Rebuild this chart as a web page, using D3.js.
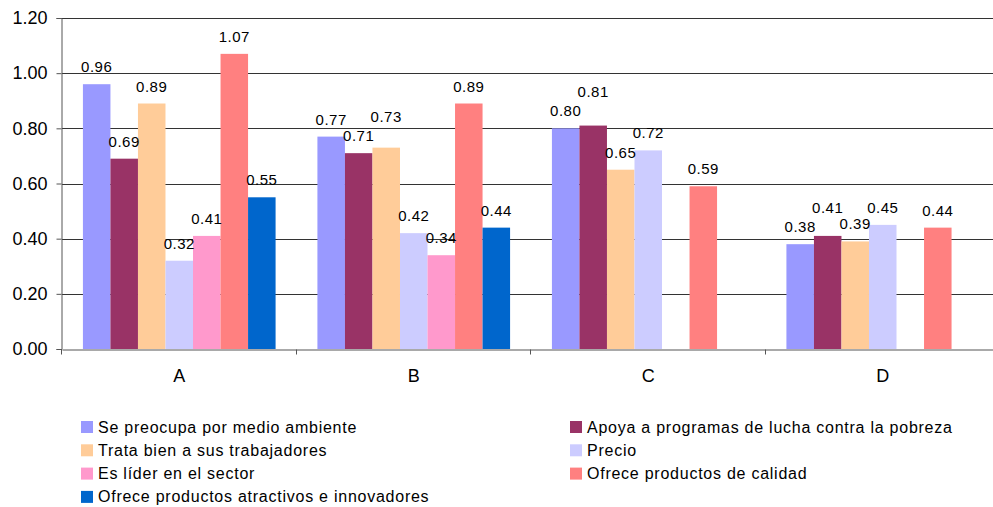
<!DOCTYPE html>
<html>
<head>
<meta charset="utf-8">
<script src="https://cdn.jsdelivr.net/npm/d3@7"></script>
<style>
  body { margin: 0; background: #fff; }
  text { font-family: Arial, "Liberation Sans", sans-serif; fill: #000; }
</style>
</head>
<body>
<svg width="993" height="507"></svg>
<script>
var categories = ["A", "B", "C", "D"];
var seriesNames = [
  "Se preocupa por medio ambiente",
  "Apoya a programas de lucha contra la pobreza",
  "Trata bien a sus trabajadores",
  "Precio",
  "Es líder en el sector",
  "Ofrece productos de calidad",
  "Ofrece productos atractivos e innovadores"
];
var seriesColors = ["#9999FF", "#993366", "#FFCC99", "#CCCCFF", "#FF99CC", "#FF8080", "#0066CC"];
// one row per category, one value per series (null = no bar)
var valuesA = [0.96, 0.69, 0.89, 0.32, 0.41, 1.07, 0.55];
var valuesB = [0.77, 0.71, 0.73, 0.42, 0.34, 0.89, 0.44];
var valuesC = [0.80, 0.81, 0.65, 0.72, null, 0.59, null];
var valuesD = [0.38, 0.41, 0.39, 0.45, null, 0.44, null];
var yTicks = [0, 0.2, 0.4, 0.6, 0.8, 1.0, 1.2];

var rows = [valuesA, valuesB, valuesC, valuesD];

var svg = d3.select("svg");
var mLeft = 62, mRight = 1000, mTop = 18, mBottom = 349;

var x0 = d3.scaleBand().domain(categories).range([mLeft, mRight]).paddingInner(0).paddingOuter(0);
var x1 = d3.scaleBand().domain(d3.range(seriesNames.length))
           .range([0, x0.bandwidth()]).paddingOuter(0.76).paddingInner(0);
var y = d3.scaleLinear().domain([0, 1.2]).range([mBottom, mTop]);

// gridlines
svg.append("g")
   .selectAll("line")
   .data(yTicks.slice(1))
   .enter()
   .append("line")
   .attr("x1", mLeft).attr("x2", mRight)
   .attr("y1", function(d){ return Math.round(y(d)) + 0.5; })
   .attr("y2", function(d){ return Math.round(y(d)) + 0.5; })
   .attr("stroke", "#333").attr("stroke-width", 1);

// bars
var groups = svg.append("g")
  .selectAll("g")
  .data(rows)
  .enter()
  .append("g")
  .attr("transform", function(d, i){ return "translate(" + x0(categories[i]) + ",0)"; });

// label baseline sits above the bar; bumped up if it would collide with the neighbour's label
var cells = function(row){
  var prev = null;
  return row.map(function(v, j){
    if (v === null) { prev = null; return null; }
    var ly = y(v) - 12;
    if (prev !== null && Math.abs(ly - prev) < 13) ly = prev - 19;
    prev = ly;
    return {v: v, j: j, ly: ly};
  }).filter(function(c){ return c !== null; });
};

groups.selectAll("rect")
  .data(cells)
  .enter()
  .append("rect")
  .attr("x", function(d){ return x1(d.j); })
  .attr("width", x1.bandwidth())
  .attr("y", function(d){ return y(d.v); })
  .attr("height", function(d){ return y(0) - y(d.v); })
  .attr("fill", function(d){ return seriesColors[d.j]; });

groups.selectAll("text")
  .data(cells)
  .enter()
  .append("text")
  .attr("x", function(d){ return x1(d.j) + x1.bandwidth() / 2; })
  .attr("y", function(d){ return d.ly; })
  .attr("text-anchor", "middle")
  .style("font-size", "15px")
  .style("letter-spacing", "0.5px")
  .text(function(d){ return d.v.toFixed(2); });

// y axis
var yAxis = d3.axisLeft(y).tickValues(yTicks).tickSize(5).tickPadding(9)
              .tickFormat(d3.format(".2f"));
var yg = svg.append("g").attr("transform", "translate(" + (mLeft - 0.5) + ",0)").call(yAxis);
yg.select(".domain").attr("stroke", "#555");
yg.selectAll(".tick line").attr("stroke", "#555");
yg.selectAll(".tick text").style("font-size", "18px").attr("fill", "#000");

// x axis
var xAxis = d3.axisBottom(x0).tickSize(0).tickPadding(20);
var xg = svg.append("g").attr("transform", "translate(0," + (mBottom + 0.5) + ")").call(xAxis);
xg.select(".domain").attr("stroke", "#555");
xg.selectAll(".tick text").style("font-size", "18px").attr("fill", "#000");
xg.selectAll(".boundary")
  .data(categories.concat(["end"]))
  .enter()
  .append("line")
  .attr("x1", function(d, i){ return Math.round(mLeft + i * x0.bandwidth()) - 0.5; })
  .attr("x2", function(d, i){ return Math.round(mLeft + i * x0.bandwidth()) - 0.5; })
  .attr("y1", 0).attr("y2", 5)
  .attr("stroke", "#555");

// legend
var legend = svg.append("g");
var items = legend.selectAll("g")
  .data(seriesNames)
  .enter()
  .append("g")
  .attr("transform", function(d, i){
    var col = i % 2, row = Math.floor(i / 2);
    return "translate(" + (col ? 570 : 81) + "," + (421 + row * 23.3) + ")";
  });
items.append("rect")
  .attr("width", 12).attr("height", 12)
  .attr("fill", function(d, i){ return seriesColors[i]; });
items.append("text")
  .attr("x", 17).attr("y", 11.5)
  .style("font-size", "16px")
  .style("letter-spacing", "0.75px")
  .text(function(d){ return d; });
</script>
</body>
</html>
